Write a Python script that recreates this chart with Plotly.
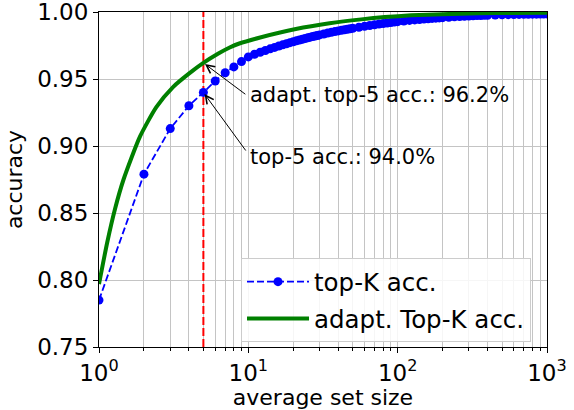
import math
import plotly.graph_objects as go

# ---- data ----
topk_k = [1, 2, 3, 4, 5, 6, 7, 8, 9, 10, 11, 12, 13, 14, 15, 16, 17, 18, 19, 20,
          21, 22, 23, 24, 25, 26, 27, 28, 29, 30, 32, 34, 36, 38, 40, 42, 44, 46, 48, 50,
          55, 60, 65, 70, 75, 80, 85, 90, 95, 100, 110, 120, 130, 140, 150, 160, 170, 180, 190, 200,
          220, 240, 260, 280, 300, 320, 340, 360, 380, 400,
          450, 500, 550, 600, 650, 700, 750, 800, 850, 900, 950, 1000]
topk_acc = [0.785, 0.879, 0.913, 0.930, 0.940, 0.9485, 0.9547, 0.959, 0.963, 0.9665,
            0.9685, 0.970, 0.9713, 0.9725, 0.9736, 0.9746, 0.9755, 0.9763, 0.9771, 0.9778,
            0.9785, 0.9791, 0.9797, 0.9802, 0.9807, 0.9812, 0.9817, 0.9821, 0.9825, 0.9829,
            0.9836, 0.9843, 0.9849, 0.9854, 0.9859, 0.9863, 0.9867, 0.9871, 0.9875, 0.9878,
            0.9886, 0.9893, 0.9899, 0.9905, 0.9910, 0.9914, 0.9918, 0.9922, 0.9925, 0.9928,
            0.9933, 0.9937, 0.9941, 0.9944, 0.9947, 0.9950, 0.9952, 0.9954, 0.9956, 0.9958,
            0.9961, 0.9964, 0.9966, 0.9968, 0.9970, 0.9972, 0.9973, 0.9974, 0.9975, 0.9976,
            0.9978, 0.9979, 0.9980, 0.9981, 0.9982, 0.9983, 0.9983, 0.9984, 0.9984, 0.9985,
            0.9985, 0.9986]

adapt_size = [1.0, 1.135, 1.28, 1.46, 1.88, 2.42, 3.13, 4.0, 5.0, 6.3, 7.5, 8.7, 12,
              20.8, 35, 57, 82, 123, 200, 350, 600, 1000]
adapt_acc = [0.797, 0.828, 0.853, 0.875, 0.907, 0.929, 0.944, 0.954, 0.962, 0.969, 0.9735,
             0.9765, 0.981, 0.9873, 0.9916, 0.9945, 0.9962, 0.9975, 0.9984, 0.999, 0.9993, 0.9995]

ref_k = 5
top5_acc = 0.940
adapt_top5_acc = 0.962

x_tick_vals = [1, 10, 100, 1000]
x_tick_text = ["10<sup>0</sup>", "10<sup>1</sup>", "10<sup>2</sup>", "10<sup>3</sup>"]
x_minor_vals = [2, 3, 4, 5, 6, 7, 8, 9, 20, 30, 40, 50, 60, 70, 80, 90,
                200, 300, 400, 500, 600, 700, 800, 900]
y_tick_vals = [0.75, 0.80, 0.85, 0.90, 0.95, 1.00]
y_tick_text = ["0.75", "0.80", "0.85", "0.90", "0.95", "1.00"]

FONT = "DejaVu Sans"
GRID = "#c4c4c4"

fig = go.Figure()

# red dashed reference line at K = 5
fig.add_trace(go.Scatter(
    x=[ref_k, ref_k], y=[y_tick_vals[0], y_tick_vals[-1]], mode="lines",
    line=dict(color="red", width=2, dash="8px,3px"), showlegend=False, hoverinfo="skip"))

fig.add_trace(go.Scatter(
    x=topk_k, y=topk_acc, mode="lines+markers", name="top-K acc.",
    line=dict(color="blue", width=1.8, dash="7px,3px"),
    marker=dict(color="blue", size=9), legendgroup="a"))

fig.add_trace(go.Scatter(
    x=adapt_size, y=adapt_acc, mode="lines", name="adapt. Top-K acc.",
    line=dict(color="green", width=4, shape="spline", smoothing=0.6), legendgroup="b"))

lx = math.log10(ref_k)
ann = []
# arrows
ann.append(dict(x=lx, y=adapt_top5_acc, ax=0.99, ay=0.9378, xref="x", yref="y",
                axref="x", ayref="y", text="", showarrow=True, arrowhead=5,
                arrowsize=1.6, arrowwidth=1, arrowcolor="black", standoff=2))
ann.append(dict(x=lx, y=top5_acc, ax=0.99, ay=0.8955, xref="x", yref="y",
                axref="x", ayref="y", text="", showarrow=True, arrowhead=5,
                arrowsize=1.6, arrowwidth=1, arrowcolor="black", standoff=2))
# texts
ann.append(dict(x=1.0, y=0.9378, xref="x", yref="y", showarrow=False,
                text="adapt. top-5 acc.: 96.2%", xanchor="left", yanchor="middle",
                font=dict(family=FONT, size=21, color="black")))
ann.append(dict(x=1.0, y=0.8916, xref="x", yref="y", showarrow=False,
                text="top-5 acc.: 94.0%", xanchor="left", yanchor="middle",
                font=dict(family=FONT, size=21, color="black")))

fig.update_layout(
    width=574, height=410,
    margin=dict(l=99, r=27, t=12, b=63, pad=0, autoexpand=False),
    paper_bgcolor="white", plot_bgcolor="white",
    font=dict(family=FONT, size=23, color="black"),
    annotations=ann,
    showlegend=True,
    legend=dict(x=0.317, y=0.265, xanchor="left", yanchor="top",
                bgcolor="rgba(255,255,255,0.85)", bordercolor="#cccccc", borderwidth=1,
                font=dict(family=FONT, size=24.5, color="black"),
                tracegroupgap=2, itemwidth=62),
)

fig.update_xaxes(
    type="log", range=[0, 3], automargin=False,
    tickvals=x_tick_vals, ticktext=x_tick_text, ticklabeloverflow="allow",
    ticks="outside", ticklen=5, tickcolor="black", tickwidth=1,
    showgrid=True, gridcolor=GRID, gridwidth=1,
    showline=True, linecolor="black", linewidth=1, mirror=True,
    zeroline=False,
    tickfont=dict(family=FONT, size=23, color="black"),
    title=dict(text="average set size", font=dict(family=FONT, size=22, color="black"), standoff=6),
    minor=dict(tickvals=x_minor_vals, ticks="outside", ticklen=3, tickcolor="black",
               showgrid=True, gridcolor=GRID, gridwidth=1),
)
fig.update_yaxes(
    range=[0.75, 1.0], automargin=False,
    tickvals=y_tick_vals, ticktext=y_tick_text, ticklabeloverflow="allow",
    ticks="outside", ticklen=5, tickcolor="black", tickwidth=1,
    showgrid=True, gridcolor=GRID, gridwidth=1,
    showline=True, linecolor="black", linewidth=1, mirror=True,
    zeroline=False,
    tickfont=dict(family=FONT, size=23, color="black"),
    title=dict(text="accuracy", font=dict(family=FONT, size=22, color="black"), standoff=8),
)

fig.write_html("out.html", config={"displayModeBar": False},
               post_script="document.body.style.margin='0';")
